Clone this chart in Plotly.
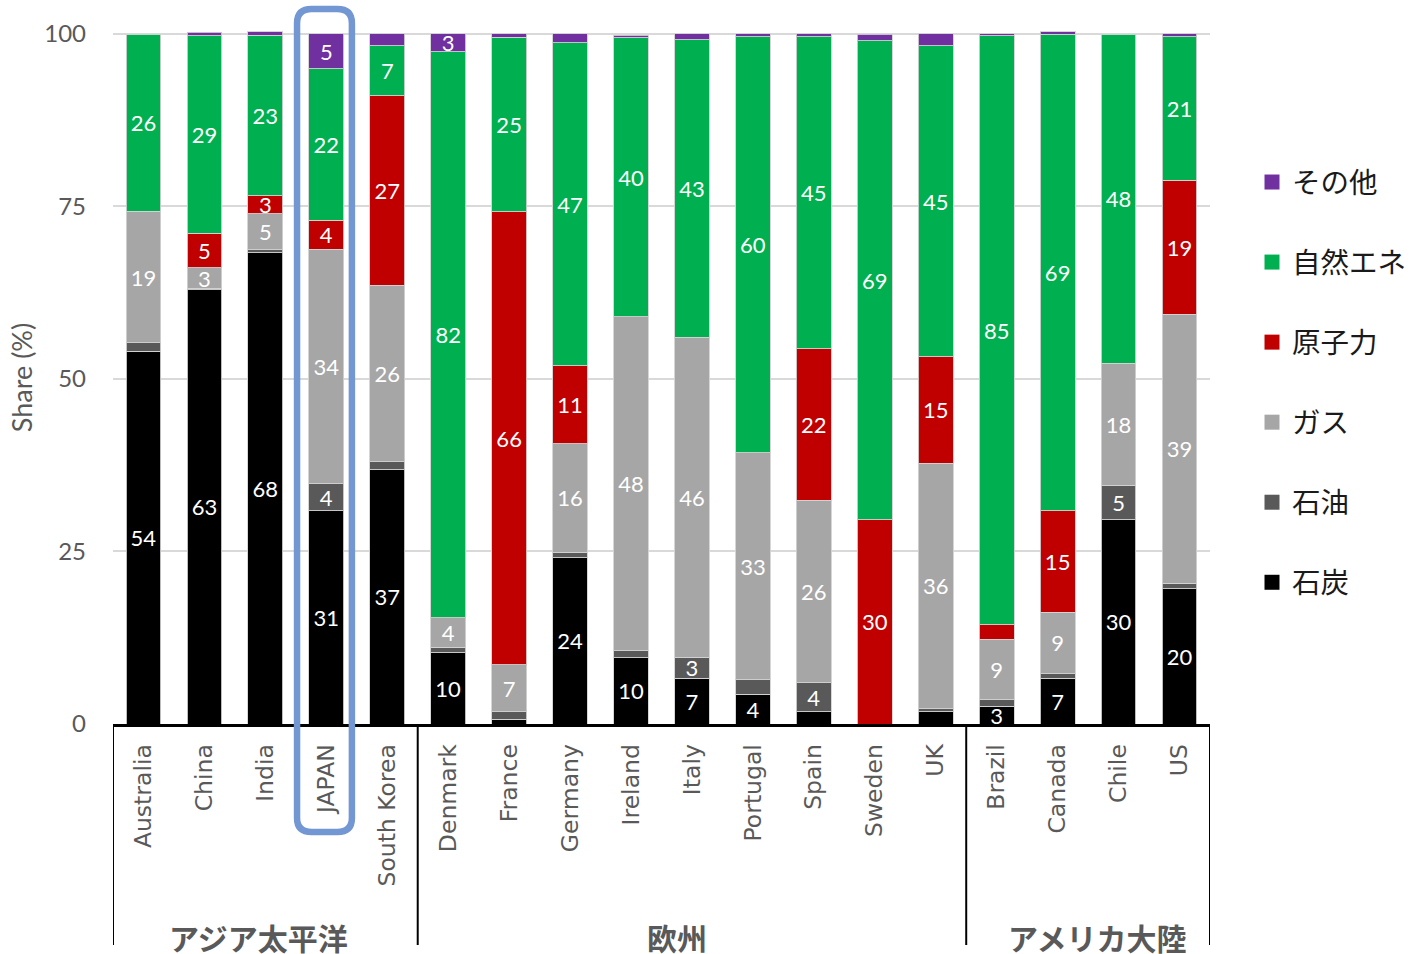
import plotly.graph_objects as go

# ---------------- data ----------------
countries = ["Australia", "China", "India", "JAPAN", "South Korea",
             "Denmark", "France", "Germany", "Ireland", "Italy", "Portugal", "Spain", "Sweden", "UK",
             "Brazil", "Canada", "Chile", "US"]
groups = ["アジア太平洋", "欧州", "アメリカ大陸"]
group_sizes = [5, 9, 4]
highlight = "JAPAN"

coal     = [54.0, 62.9, 68.3, 30.9, 36.8, 10.3, 0.7, 24.1, 9.6, 6.6, 4.3, 1.8, 0.0, 1.8, 2.6, 6.6, 29.6, 19.6]
oil      = [1.2, 0.2, 0.4, 3.9, 1.2, 0.8, 1.1, 0.8, 1.0, 3.1, 2.1, 4.2, 0.0, 0.4, 0.9, 0.7, 5.0, 0.8]
gas      = [19.1, 3.0, 5.2, 34.0, 25.6, 4.3, 6.8, 15.7, 48.4, 46.3, 32.9, 26.4, 0.0, 35.6, 8.8, 8.9, 17.7, 39.0]
nuclear  = [0.0, 5.0, 2.6, 4.2, 27.4, 0.0, 65.6, 11.3, 0.0, 0.0, 0.0, 22.0, 29.6, 15.4, 2.1, 14.7, 0.0, 19.4]
renew    = [25.6, 28.6, 23.3, 21.9, 7.3, 82.0, 25.3, 46.8, 40.4, 43.1, 60.3, 45.2, 69.4, 45.1, 85.3, 69.0, 47.6, 20.8]
other    = [0.0, 0.5, 0.5, 5.1, 1.7, 2.6, 0.5, 1.3, 0.4, 0.9, 0.4, 0.4, 0.9, 1.7, 0.3, 0.4, 0.0, 0.4]

series_names = ["石炭", "石油", "ガス", "原子力", "自然エネ", "その他"]
series_vals = [coal, oil, gas, nuclear, renew, other]
series_colors = ["#000000", "#595959", "#A6A6A6", "#C00000", "#00B050", "#7030A0"]

y_ticks = [0, 25, 50, 75, 100]
y_title = "Share (%)"

# ---------------- layout geometry ----------------
W, H = 1411, 954
ML, MR, MT, MB = 113, 201, 31, 230
plot_h = H - MT - MB
plot_w = W - ML - MR


def py(px):  # pixel row -> paper y
    return (H - MB - px) / plot_h


xs = list(range(len(countries)))


def label(v):
    return str(int(v + 0.5)) if v >= 2.5 else ""


fig = go.Figure()
for name, vals, col in zip(series_names, series_vals, series_colors):
    fig.add_trace(go.Bar(
        x=xs, y=vals, name=name, showlegend=False,
        marker=dict(color=col, line=dict(color="rgba(210,210,210,0.9)", width=1)),
        text=[label(v) for v in vals],
        textposition="inside", insidetextanchor="middle", textangle=0,
        textfont=dict(color="white", size=22, family="Lato"),
        cliponaxis=False, hoverinfo="skip",
    ))

# legend entries (top: その他 ... bottom: 石炭)
for i, (name, col) in enumerate(reversed(list(zip(series_names, series_colors)))):
    fig.add_trace(go.Scatter(
        x=[None], y=[None], mode="markers", name=name, legendgroup=f"g{i}",
        marker=dict(symbol="square", size=15, color=col),
    ))

# group dividers and labels
bounds = [-0.5]
for s in group_sizes:
    bounds.append(bounds[-1] + s)
shapes = []
for b in bounds:
    shapes.append(dict(type="line", xref="x", yref="paper", x0=b, x1=b,
                       y0=0, y1=py(945), line=dict(color="black", width=2)))
annotations = []
shifts = [-7, -15, 9]
for g, s0, s1, sh in zip(groups, bounds[:-1], bounds[1:], shifts):
    annotations.append(dict(text=f"<b>{g}</b>", x=(s0 + s1) / 2, xref="x", y=py(937), yref="paper",
                            showarrow=False, xshift=sh, yanchor="middle",
                            font=dict(family="Noto Sans CJK JP", size=30, color="#595959")))

# highlight box around JAPAN (rounded rectangle)
hi = countries.index(highlight)
x0, x1 = hi - 0.48, hi + 0.42
y0, y1 = py(832), py(9)
rx, ry = 0.24, 14 / plot_h
path = (f"M {x0+rx},{y1} L {x1-rx},{y1} Q {x1},{y1} {x1},{y1-ry} "
        f"L {x1},{y0+ry} Q {x1},{y0} {x1-rx},{y0} L {x0+rx},{y0} "
        f"Q {x0},{y0} {x0},{y0+ry} L {x0},{y1-ry} Q {x0},{y1} {x0+rx},{y1} Z")
shapes.append(dict(type="path", xref="x", yref="paper", path=path,
                   line=dict(color="#7397D3", width=6.5), layer="above"))

fig.update_layout(
    template="none",
    width=W, height=H,
    margin=dict(l=ML, r=MR, t=MT, b=MB, pad=0),
    paper_bgcolor="white", plot_bgcolor="white",
    barmode="stack", bargap=0.43,
    uniformtext=dict(minsize=22, mode="show"),
    showlegend=True,
    legend=dict(x=1252 / W, y=1 - 157 / H, xanchor="left", yanchor="top",
                xref="container", yref="container",
                font=dict(family="Noto Sans CJK JP", size=28.5, color="#1a1a1a"),
                tracegroupgap=40, traceorder="grouped", bgcolor="rgba(0,0,0,0)"),
    shapes=shapes,
    annotations=annotations,
    xaxis=dict(
        tickmode="array", tickvals=xs, ticktext=countries,
        range=[-0.5, len(countries) - 0.5],
        tickangle=-90, ticks="", ticklabelstandoff=8,
        tickfont=dict(family="DejaVu Sans", size=23.5, color="#595959"),
        showline=True, linecolor="black", linewidth=2.5,
        showgrid=False, zeroline=False, automargin=False,
    ),
    yaxis=dict(
        range=[0, 100.4], tickvals=y_ticks, ticks="", ticklabelstandoff=26,
        tickfont=dict(family="Lato", size=24, color="#595959"),
        showgrid=True, gridcolor="#D9D9D9", gridwidth=2,
        zeroline=False, showline=False, automargin=False,
        title=dict(text=y_title, standoff=3,
                   font=dict(family="Lato", size=27, color="#595959")),
    ),
)

fig.write_html("out.html")
